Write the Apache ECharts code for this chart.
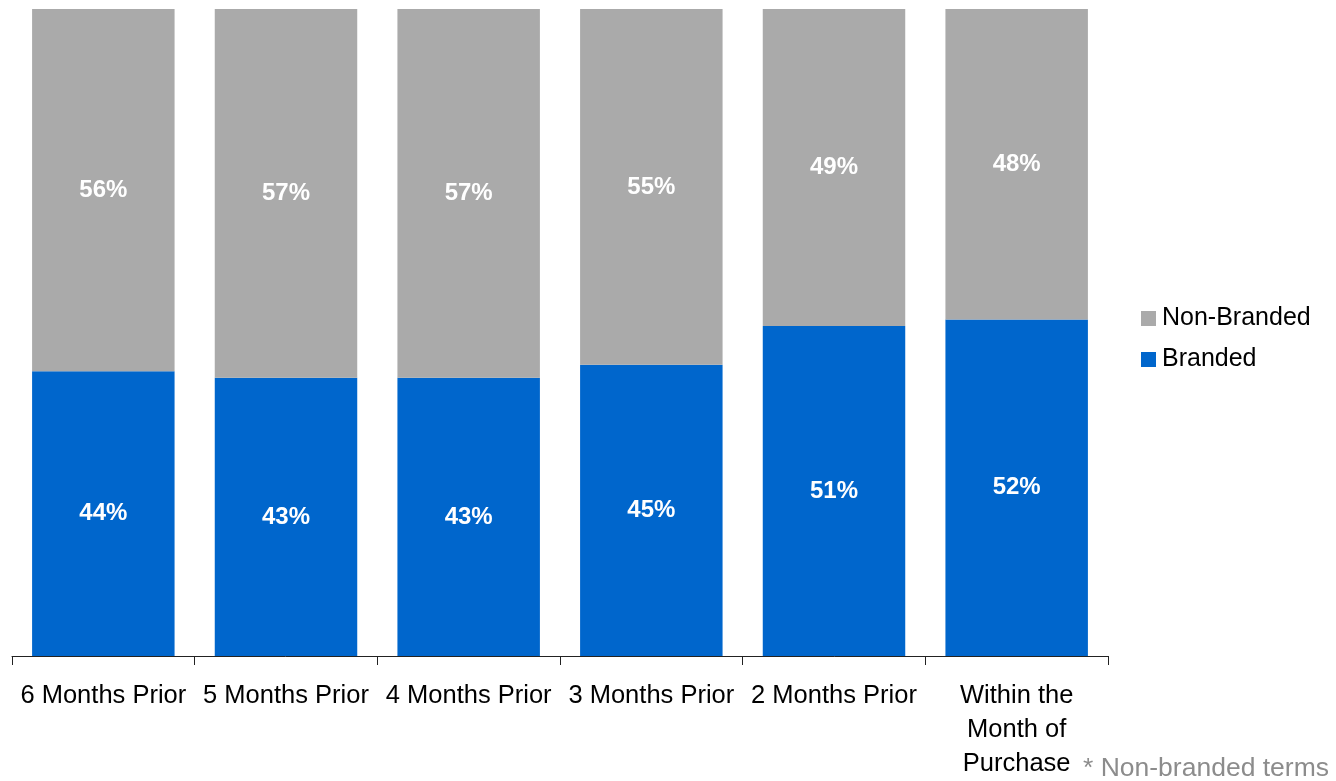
<!DOCTYPE html>
<html>
<head>
<meta charset="utf-8">
<script src="https://cdn.jsdelivr.net/npm/echarts@6/dist/echarts.min.js"></script>
<style>
  html, body { margin: 0; padding: 0; background: #fff; }
  #chart { width: 1336px; height: 781px; }
</style>
</head>
<body>
<div id="chart"></div>
<script>
// Share of search terms by timing relative to purchase
const categories = ['6 Months Prior', '5 Months Prior', '4 Months Prior', '3 Months Prior', '2 Months Prior', 'Within the\nMonth of\nPurchase'];
const branded = [44, 43, 43, 45, 51, 52];
const nonBranded = [56, 57, 57, 55, 49, 48];
const footnote = '* Non-branded terms';

const FONT = '"Liberation Sans", Arial, sans-serif';

const chart = echarts.init(document.getElementById('chart'));

const segLabel = {
  show: true,
  position: 'inside',
  color: '#fff',
  fontFamily: FONT,
  fontWeight: 'bold',
  fontSize: 24,
  formatter: p => p.value + '%'
};

chart.setOption({
  animation: false,
  grid: { left: 12, right: 228, top: 9, bottom: 118, containLabel: false },
  legend: {
    orient: 'vertical',
    left: 1141,
    top: 306,
    padding: 0,
    itemWidth: 15,
    itemHeight: 15,
    itemGap: 16,
    icon: 'rect',
    textStyle: { fontFamily: FONT, fontSize: 25, color: '#000', padding: [0, 0, 0, 1] },
    data: ['Non-Branded', 'Branded']
  },
  xAxis: {
    type: 'category',
    data: categories,
    axisLine: { lineStyle: { color: '#222', width: 1 } },
    axisTick: { show: true, length: 9, lineStyle: { color: '#222' } },
    axisLabel: {
      color: '#000',
      fontFamily: FONT,
      fontSize: 25.5,
      lineHeight: 34,
      margin: 23,
      interval: 0
    }
  },
  yAxis: {
    type: 'value',
    min: 0,
    max: 100,
    show: false,
    splitLine: { show: false }
  },
  series: [
    {
      name: 'Branded',
      type: 'bar',
      stack: 'share',
      data: branded,
      barCategoryGap: '22%',
      itemStyle: { color: '#0066CC' },
      label: segLabel
    },
    {
      name: 'Non-Branded',
      type: 'bar',
      stack: 'share',
      data: nonBranded,
      itemStyle: { color: '#AAAAAA' },
      label: segLabel
    }
  ],
  graphic: [
    {
      type: 'text',
      left: 1083,
      top: 755,
      style: {
        text: footnote,
        fill: '#8C8C8C',
        font: '26.5px ' + FONT
      }
    }
  ]
});
</script>
</body>
</html>
